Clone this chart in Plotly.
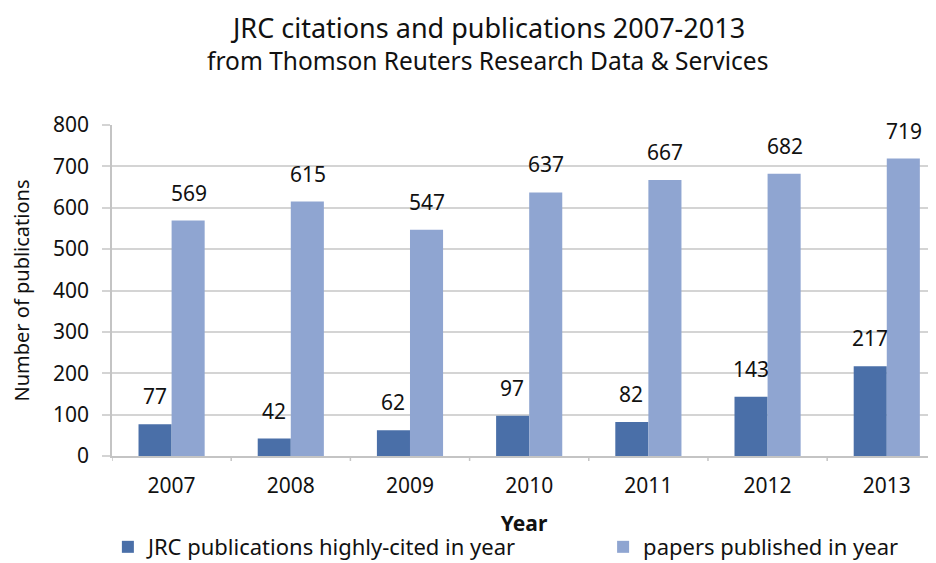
import plotly.graph_objects as go

years = ["2007", "2008", "2009", "2010", "2011", "2012", "2013"]
highly_cited = [77, 42, 62, 97, 82, 143, 217]
papers = [569, 615, 547, 637, 667, 682, 719]
y_ticks = [0, 100, 200, 300, 400, 500, 600, 700, 800]

xs = list(range(len(years)))
dark = "#4a6fa8"
light = "#8fa5d1"
FONT = "Noto Sans"
TXT = "#111111"

fig = go.Figure()
fig.add_trace(go.Bar(x=xs, y=highly_cited, name="JRC publications highly-cited in year",
                     marker=dict(color=dark, line=dict(width=0)), legend="legend",
                     showlegend=True))
fig.add_trace(go.Bar(x=xs, y=papers, name="papers published in year",
                     marker=dict(color=light, line=dict(width=0)), legend="legend2",
                     showlegend=True))

for i, v in enumerate(highly_cited):
    fig.add_annotation(x=i, y=v, xshift=-17, yshift=28, text=str(v), showarrow=False,
                       yanchor="middle", font=dict(size=21, color=TXT))
for i, v in enumerate(papers):
    fig.add_annotation(x=i, y=v, xshift=17, yshift=28, text=str(v), showarrow=False,
                       yanchor="middle", font=dict(size=21, color=TXT))

# two-line title
fig.add_annotation(xref="paper", yref="paper", x=0.456, y=1.296, showarrow=False,
                   xanchor="center", yanchor="middle",
                   text="JRC citations and publications 2007-2013",
                   font=dict(size=27, color=TXT))
fig.add_annotation(xref="paper", yref="paper", x=0.456, y=1.196, showarrow=False,
                   xanchor="center", yanchor="middle",
                   text="from Thomson Reuters Research Data &amp; Services",
                   font=dict(size=24.5, color=TXT))

fig.update_layout(
    width=928, height=555,
    margin=dict(l=104, r=0, t=117, b=107, autoexpand=False),
    showlegend=True,
    paper_bgcolor="white", plot_bgcolor="white",
    font=dict(family=FONT, size=21, color=TXT),
    barmode="group", bargap=0.445, bargroupgap=0,
    xaxis=dict(range=[-0.5, 6.413], tickvals=xs, ticktext=years, showgrid=False,
               showline=True, linecolor="#c4c4c4", linewidth=1.5,
               ticks="", tickfont=dict(size=21), ticklabelstandoff=10,
               title=dict(text="<b>Year</b>", font=dict(size=21), standoff=18)),
    yaxis=dict(range=[0, 800], tickvals=y_ticks, showgrid=True, gridcolor="#d4d4d4",
               gridwidth=2, showline=True, linecolor="#c4c4c4", linewidth=1.5,
               ticks="outside", ticklen=8, tickcolor="#d4d4d4", tickwidth=2,
               tickfont=dict(size=21), zeroline=False, ticklabelstandoff=9,
               title=dict(text="Number of publications", font=dict(size=20), standoff=21)),
    legend=dict(orientation="h", x=-0.005, xanchor="left", y=-0.275, yanchor="middle",
                font=dict(size=22), bgcolor="rgba(0,0,0,0)"),
    legend2=dict(orientation="h", x=0.596, xanchor="left", y=-0.275, yanchor="middle",
                 font=dict(size=22), bgcolor="rgba(0,0,0,0)"),
)

# category boundary tick marks on x axis
for b in [i + 0.5 for i in range(-1, len(years))]:
    fig.add_shape(type="line", xref="x", yref="paper", x0=b, x1=b, y0=0, y1=-0.015,
                  line=dict(color="#c4c4c4", width=1.5))

fig.write_html("out.html")
